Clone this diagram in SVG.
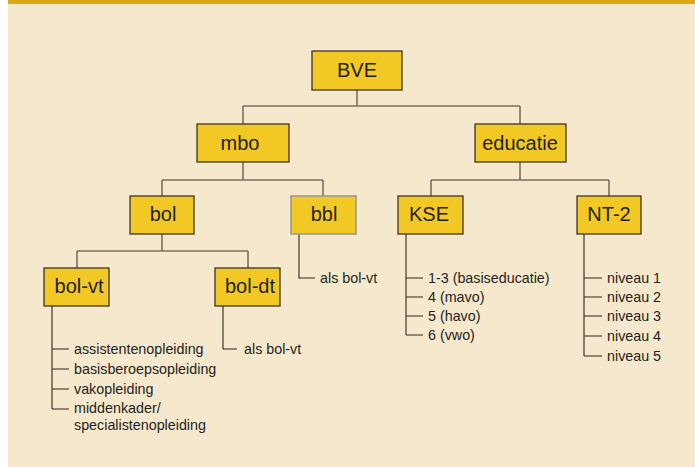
<svg xmlns="http://www.w3.org/2000/svg" width="695" height="467" viewBox="0 0 695 467">
<style>
.box{fill:#F2C824;stroke:#3d3528;stroke-width:1.3}
.boxg{fill:#F2C824;stroke:#9a9a96;stroke-width:1.6}
.lbl{font-family:"Liberation Sans",Arial,sans-serif;font-size:20px;fill:#231f1a;text-anchor:middle}
.item{font-family:"Liberation Sans",Arial,sans-serif;font-size:14.3px;fill:#231f1a}
.tree{fill:none;stroke:#7a6f60;stroke-width:1.6}
.list{fill:none;stroke:#2b2722;stroke-width:1.1}
</style>
<rect x="0" y="0" width="695" height="467" fill="#ffffff"/>
<rect x="8" y="0" width="687" height="467" fill="#F6E8CD"/>
<rect x="8" y="0" width="687" height="4" fill="#DBA816"/>
<g id="connectors">
<path class="tree" d="M357 90V106M243 106H520M243 106V124M520 106V124"/>
<path class="tree" d="M243 162V180M162 180H323M162 180V196M323 180V196"/>
<path class="tree" d="M520 162V180M431 180H609M431 180V196M609 180V196"/>
<path class="tree" d="M162 234V251M77 251H248M77 251V268M248 251V268"/>
<path class="list" d="M299 234V278H315"/>
<path class="list" d="M52 306V409M52 349H69M52 369H69M52 389H69M52 409H69"/>
<path class="list" d="M223 306V349H237"/>
<path class="list" d="M406 234V335M406 278H423M406 297H423M406 316H423M406 335H423"/>
<path class="list" d="M584 234V356M584 278H602M584 297H602M584 316H602M584 336H602M584 356H602"/>
</g>
<g id="node-bve"><rect class="box" x="312" y="51" width="90" height="39"/><text class="lbl" x="357" y="77">BVE</text></g>
<g id="node-mbo"><rect class="box" x="197" y="124" width="92" height="38"/><text class="lbl" x="240" y="150">mbo</text></g>
<g id="node-educatie"><rect class="box" x="475" y="124" width="91" height="38"/><text class="lbl" x="520" y="150">educatie</text></g>
<g id="node-bol"><rect class="box" x="130" y="196" width="64" height="38"/><text class="lbl" x="163" y="221">bol</text></g>
<g id="node-bbl"><rect class="boxg" x="291" y="196" width="65" height="38"/><text class="lbl" x="324" y="221">bbl</text></g>
<g id="node-kse"><rect class="box" x="398" y="196" width="65" height="38"/><text class="lbl" x="429" y="221">KSE</text></g>
<g id="node-nt2"><rect class="box" x="577" y="196" width="64" height="38"/><text class="lbl" x="609" y="221">NT-2</text></g>
<g id="node-bolvt"><rect class="box" x="44" y="268" width="65" height="38"/><text class="lbl" x="79" y="293">bol-vt</text></g>
<g id="node-boldt"><rect class="box" x="215" y="268" width="65" height="38"/><text class="lbl" x="250" y="293">bol-dt</text></g>
<g id="list-bbl"><text class="item" x="320" y="283">als bol-vt</text></g>
<g id="list-boldt"><text class="item" x="244" y="354">als bol-vt</text></g>
<g id="list-bolvt">
<text class="item" x="74" y="354">assistentenopleiding</text>
<text class="item" x="74" y="374">basisberoepsopleiding</text>
<text class="item" x="74" y="394">vakopleiding</text>
<text class="item" x="74" y="413">middenkader/</text>
<text class="item" x="74" y="430">specialistenopleiding</text>
</g>
<g id="list-kse">
<text class="item" x="428" y="283">1-3 (basiseducatie)</text>
<text class="item" x="428" y="302">4 (mavo)</text>
<text class="item" x="428" y="321">5 (havo)</text>
<text class="item" x="428" y="340">6 (vwo)</text>
</g>
<g id="list-nt2">
<text class="item" x="607" y="283">niveau 1</text>
<text class="item" x="607" y="302">niveau 2</text>
<text class="item" x="607" y="321">niveau 3</text>
<text class="item" x="607" y="341">niveau 4</text>
<text class="item" x="607" y="361">niveau 5</text>
</g>
</svg>
